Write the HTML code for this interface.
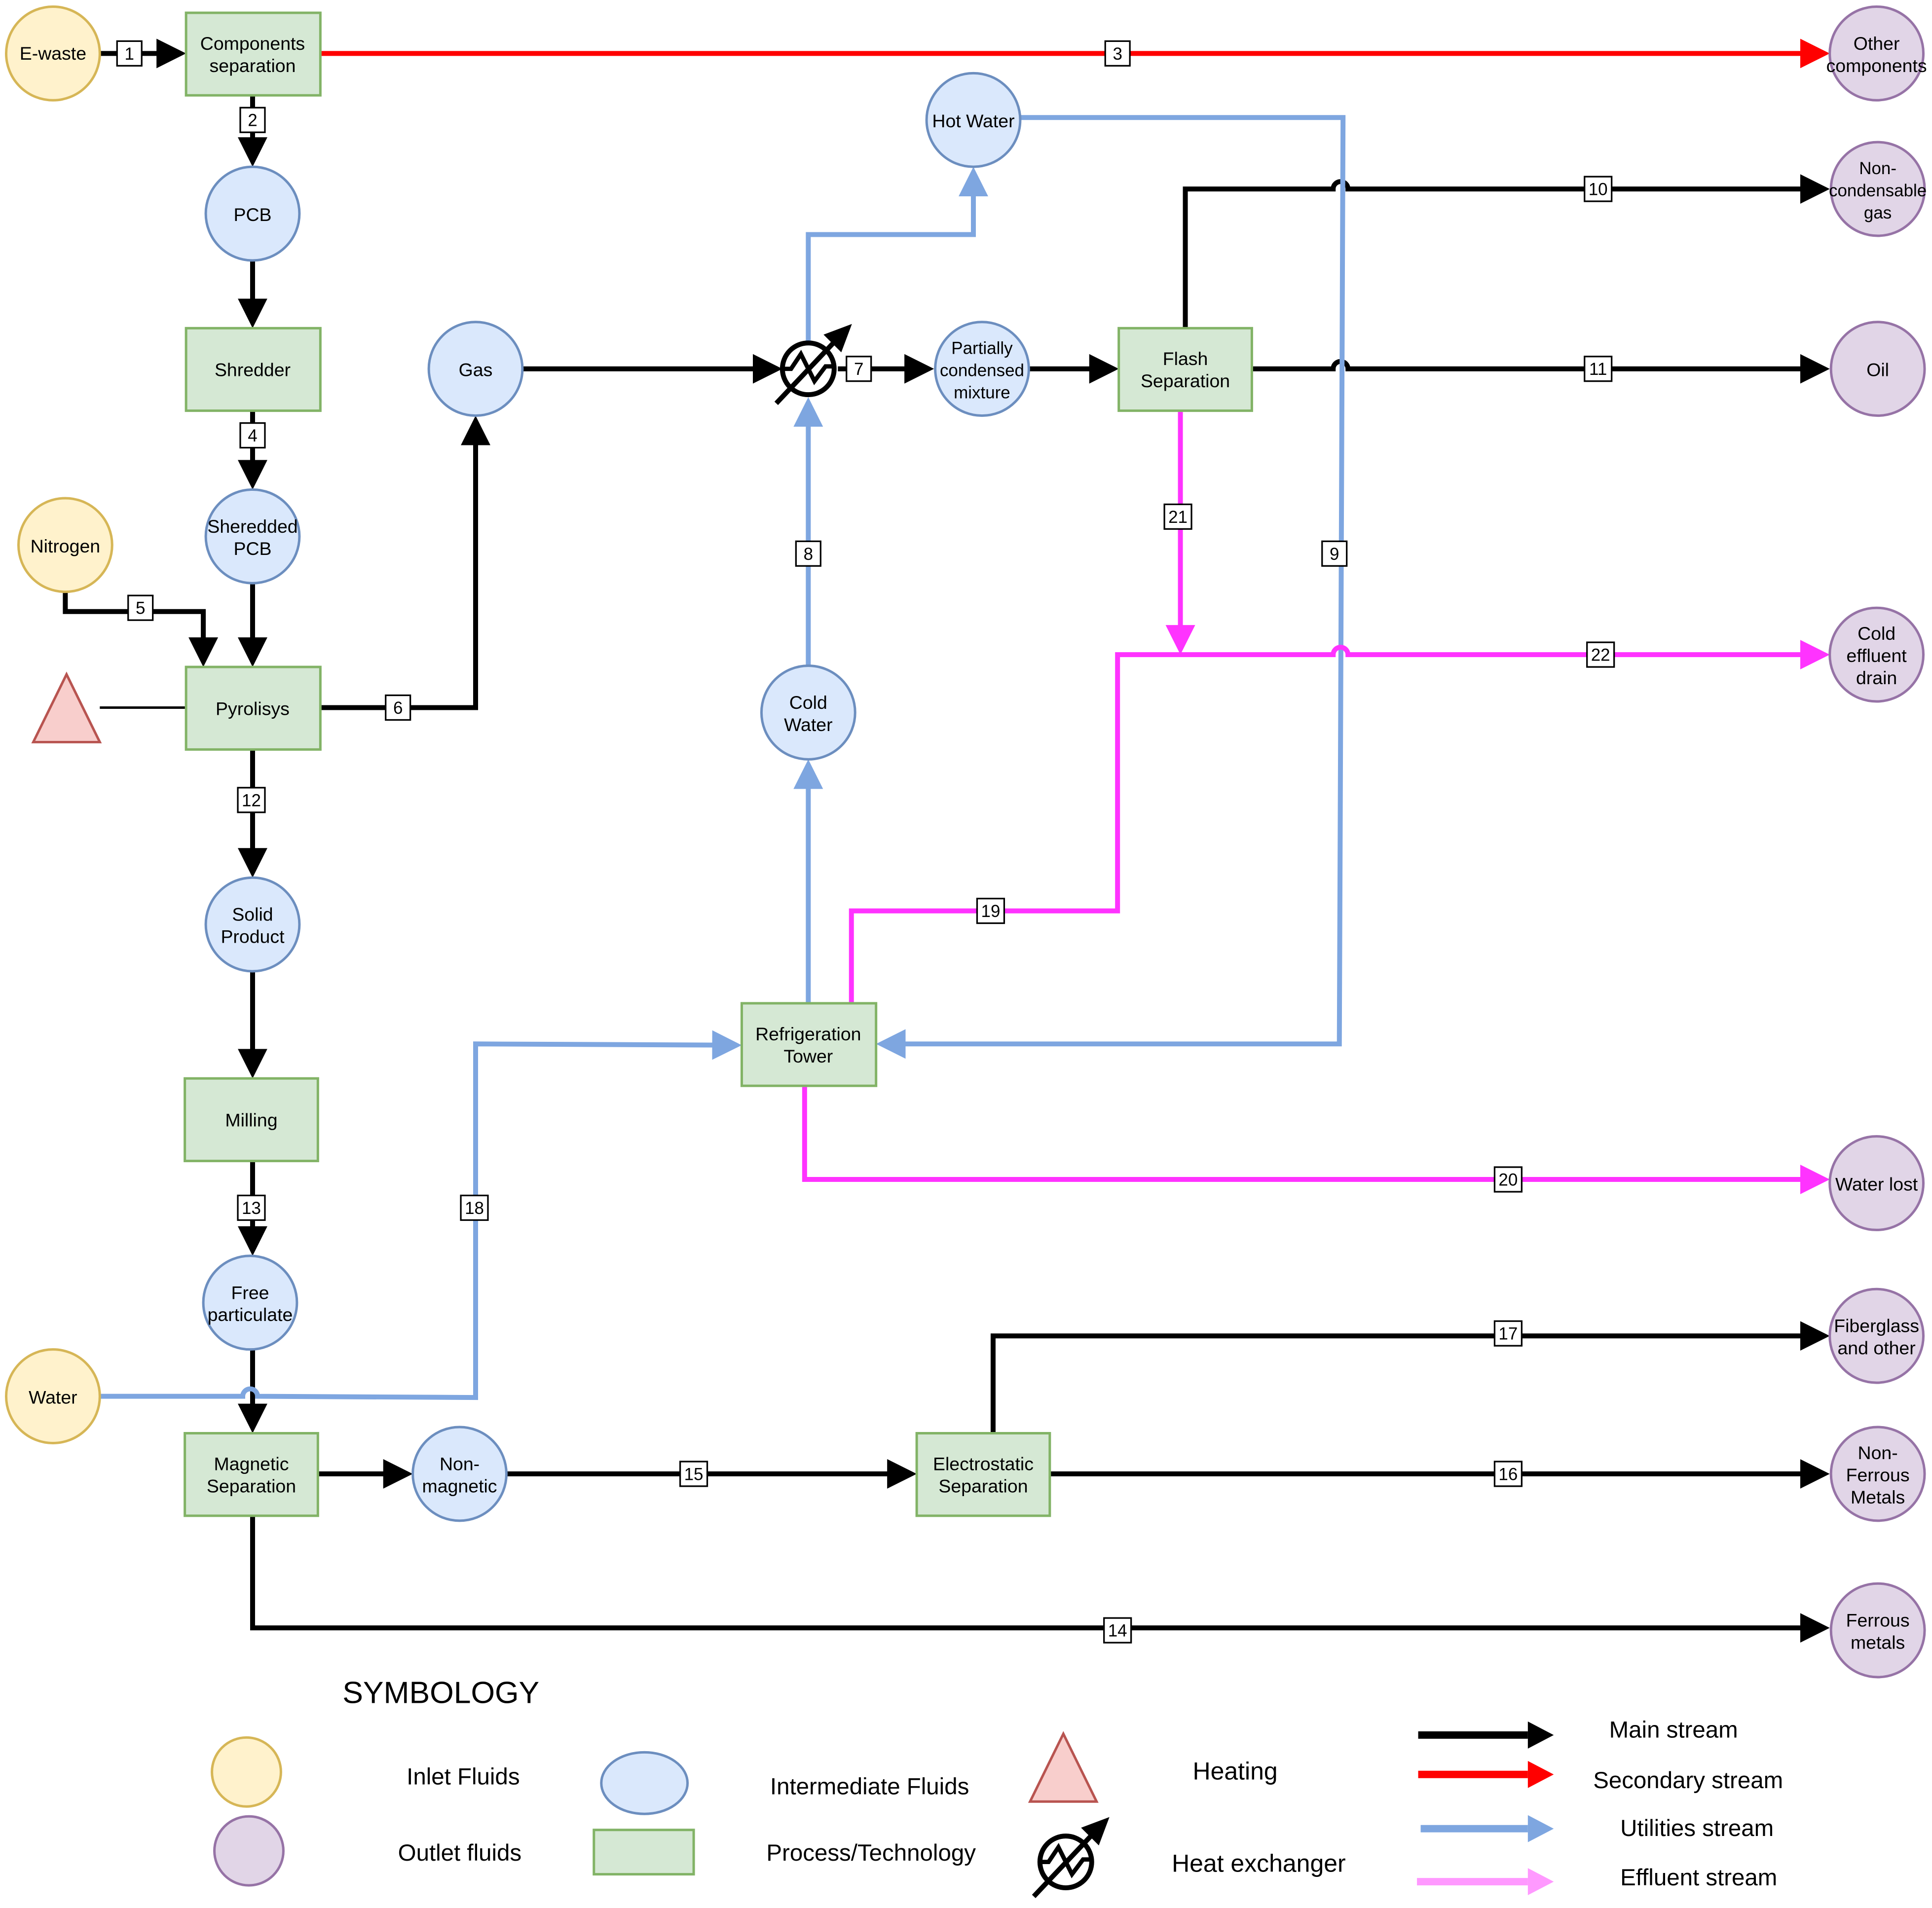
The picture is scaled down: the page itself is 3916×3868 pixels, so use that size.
<!DOCTYPE html>
<html><head><meta charset="utf-8"><style>
html,body{margin:0;padding:0;background:#fff;}
svg{display:block;}
text{font-family:"Liberation Sans",sans-serif;}
</style></head><body>
<svg width="3916" height="3868" viewBox="0 0 1568 1548" xmlns="http://www.w3.org/2000/svg">
<defs>
<marker id="ak" markerWidth="6" markerHeight="6" refX="5" refY="3" orient="auto" markerUnits="strokeWidth"><path d="M0,0 L6,3 L0,6 Z" fill="#000"/></marker>
<marker id="ar" markerWidth="6" markerHeight="6" refX="5" refY="3" orient="auto" markerUnits="strokeWidth"><path d="M0,0 L6,3 L0,6 Z" fill="#f00"/></marker>
<marker id="ab" markerWidth="6" markerHeight="6" refX="5" refY="3" orient="auto" markerUnits="strokeWidth"><path d="M0,0 L6,3 L0,6 Z" fill="#7ea6e0"/></marker>
<marker id="am" markerWidth="6" markerHeight="6" refX="5" refY="3" orient="auto" markerUnits="strokeWidth"><path d="M0,0 L6,3 L0,6 Z" fill="#ff33ff"/></marker>
</defs>
<rect width="1568" height="1548" fill="#fff"/>
<g fill="none" stroke-width="4">
<!-- black -->
<g stroke="#000" marker-end="url(#ak)">
<path d="M81,43 H147"/>
<path d="M205,77 V131"/>
<path d="M205,211 V262"/>
<path d="M205,333 V393"/>
<path d="M205,473 V537"/>
<path d="M53,480 V496 H165 V537"/>
<path d="M260,574 H386 V341"/>
<path d="M424,299 H631"/>
<path d="M680,299 H754"/>
<path d="M835,299 H904"/>
<path d="M962,266 V153 H1082 A6,6 0 0 1 1094,153 H1481"/>
<path d="M1016,299 H1082 A6,6 0 0 1 1094,299 H1481"/>
<path d="M205,608 V708"/>
<path d="M205,788 V871"/>
<path d="M205,942 V1015"/>
<path d="M205,1095 V1159"/>
<path d="M258,1196 H331"/>
<path d="M411,1196 H740"/>
<path d="M852,1196 H1481"/>
<path d="M806,1163 V1084 H1481"/>
<path d="M205,1230 V1321 H1481"/>
</g>
<path d="M81,574 H151" stroke="#000" stroke-width="2"/>
<path d="M260,43 H1481" stroke="#f00" marker-end="url(#ar)"/>
<g stroke="#7ea6e0" marker-end="url(#ab)">
<path d="M656,540 V326"/>
<path d="M656,280 V190 H790 V139"/>
<path d="M828,95 H1090 L1087,847 H715"/>
<path d="M656,814 V620"/>
<path d="M81,1133 H197 A6,6 0 0 1 209,1133 L386,1134 V847 L598,848"/>
</g>
<g stroke="#ff33ff" marker-end="url(#am)">
<path d="M958,333 V527"/>
<path d="M691,814 V739 H907 V531 H1082 A6,6 0 0 1 1094,531 H1481"/>
<path d="M653,881 V957 H1481"/>
</g>
</g>
<!-- nodes -->
<g stroke-width="2" font-size="15" text-anchor="middle">
<g fill="#fff2cc" stroke="#d6b656">
<circle cx="43" cy="43" r="38"/><circle cx="53" cy="442" r="38"/><circle cx="43" cy="1133" r="38"/>
<circle cx="200" cy="1438" r="28"/>
</g>
<g fill="#e1d5e7" stroke="#9673a6">
<circle cx="1523" cy="43" r="38"/><circle cx="1524" cy="153" r="38"/><circle cx="1524" cy="299" r="38"/><circle cx="1523" cy="531" r="38"/><circle cx="1523" cy="960" r="38"/><circle cx="1523" cy="1084" r="38"/><circle cx="1524" cy="1196" r="38"/><circle cx="1524" cy="1323" r="38"/>
<circle cx="202" cy="1502" r="28"/>
</g>
<g fill="#dae8fc" stroke="#6c8ebf">
<circle cx="205" cy="173" r="38"/><circle cx="205" cy="435" r="38"/><circle cx="386" cy="299" r="38"/><circle cx="790" cy="97" r="38"/><circle cx="797" cy="299" r="38"/><circle cx="656" cy="578" r="38"/><circle cx="205" cy="750" r="38"/><circle cx="203" cy="1057" r="38"/><circle cx="373" cy="1196" r="38"/>
<ellipse cx="523" cy="1447" rx="35" ry="25"/>
</g>
<g fill="#d5e8d4" stroke="#82b366">
<rect x="151" y="10" width="109" height="67"/><rect x="151" y="266" width="109" height="67"/><rect x="151" y="541" width="109" height="67"/><rect x="908" y="266" width="108" height="67"/><rect x="602" y="814" width="109" height="67"/><rect x="150" y="875" width="108" height="67"/><rect x="150" y="1163" width="108" height="67"/><rect x="744" y="1163" width="108" height="67"/>
<rect x="482" y="1485" width="81" height="36"/>
</g>
<g fill="#f8cecc" stroke="#b85450">
<path d="M27,602 L54,547 L81,602 Z"/><path d="M836,1462 L863,1407 L890,1462 Z"/>
</g>
<g stroke="none" fill="#000">
<text x="43" y="48">E-waste</text>
<text x="205" y="40">Components</text><text x="205" y="58">separation</text>
<text x="1523" y="40">Other</text><text x="1523" y="58">components</text>
<text x="205" y="179">PCB</text>
<text x="205" y="305">Shredder</text>
<text x="205" y="432">Sheredded</text><text x="205" y="450">PCB</text>
<text x="53" y="448">Nitrogen</text>
<text x="205" y="580">Pyrolisys</text>
<text x="386" y="305">Gas</text>
<text x="790" y="103">Hot Water</text>
<text x="797" y="287" font-size="14">Partially</text><text x="797" y="305" font-size="14">condensed</text><text x="797" y="323" font-size="14">mixture</text>
<text x="962" y="296">Flash</text><text x="962" y="314">Separation</text>
<text x="1524" y="141" font-size="14">Non-</text><text x="1524" y="159" font-size="14">condensable</text><text x="1524" y="177" font-size="14">gas</text>
<text x="1524" y="305">Oil</text>
<text x="1523" y="519">Cold</text><text x="1523" y="537">effluent</text><text x="1523" y="555">drain</text>
<text x="656" y="575">Cold</text><text x="656" y="593">Water</text>
<text x="205" y="747">Solid</text><text x="205" y="765">Product</text>
<text x="656" y="844">Refrigeration</text><text x="656" y="862">Tower</text>
<text x="204" y="914">Milling</text>
<text x="1523" y="966">Water lost</text>
<text x="203" y="1054">Free</text><text x="203" y="1072">particulate</text>
<text x="43" y="1139">Water</text>
<text x="1523" y="1081">Fiberglass</text><text x="1523" y="1099">and other</text>
<text x="204" y="1193">Magnetic</text><text x="204" y="1211">Separation</text>
<text x="373" y="1193">Non-</text><text x="373" y="1211">magnetic</text>
<text x="798" y="1193">Electrostatic</text><text x="798" y="1211">Separation</text>
<text x="1524" y="1184">Non-</text><text x="1524" y="1202">Ferrous</text><text x="1524" y="1220">Metals</text>
<text x="1524" y="1320">Ferrous</text><text x="1524" y="1338">metals</text>
</g>
</g>
<!-- heat exchangers -->
<g fill="none" stroke="#000" stroke-width="4">
<circle cx="656" cy="299" r="21"/>
<path d="M635,299 H642 L650,287 L661,309 L670,297 H677" stroke-width="3.5"/>
<path d="M630,327 L682,272"/>
<path d="M688,266 L672,272 L682,282 Z" fill="#000"/>
<g transform="translate(209,1212)">
<circle cx="656" cy="299" r="21"/>
<path d="M635,299 H642 L650,287 L661,309 L670,297 H677" stroke-width="3.5"/>
<path d="M630,327 L682,272"/>
<path d="M688,266 L672,272 L682,282 Z" fill="#000"/>
</g>
</g>
<!-- number labels -->
<g font-size="14" text-anchor="middle">
<g fill="#fff" stroke="#000" stroke-width="1.3">
<rect x="95" y="33" width="20" height="20"/><rect x="195" y="87" width="20" height="20"/><rect x="897" y="33" width="20" height="20"/>
<rect x="195" y="343" width="20" height="20"/><rect x="104" y="483" width="20" height="20"/><rect x="313" y="564" width="20" height="20"/>
<rect x="687" y="289" width="20" height="20"/><rect x="646" y="439" width="20" height="20"/><rect x="1073" y="439" width="20" height="20"/>
<rect x="1286" y="143" width="22" height="20"/><rect x="1286" y="289" width="22" height="20"/><rect x="193" y="639" width="22" height="20"/>
<rect x="945" y="409" width="22" height="20"/><rect x="1288" y="521" width="22" height="20"/><rect x="793" y="729" width="22" height="20"/>
<rect x="1213" y="947" width="22" height="20"/><rect x="193" y="970" width="22" height="20"/><rect x="374" y="970" width="22" height="20"/>
<rect x="1213" y="1072" width="22" height="20"/><rect x="552" y="1186" width="22" height="20"/><rect x="1213" y="1186" width="22" height="20"/>
<rect x="896" y="1313" width="22" height="20"/>
</g>
<text x="105" y="48">1</text><text x="205" y="102">2</text><text x="907" y="48">3</text>
<text x="205" y="358">4</text><text x="114" y="498">5</text><text x="323" y="579">6</text>
<text x="697" y="304">7</text><text x="656" y="454">8</text><text x="1083" y="454">9</text>
<text x="1297" y="158">10</text><text x="1297" y="304">11</text><text x="204" y="654">12</text>
<text x="956" y="424">21</text><text x="1299" y="536">22</text><text x="804" y="744">19</text>
<text x="1224" y="962">20</text><text x="204" y="985">13</text><text x="385" y="985">18</text>
<text x="1224" y="1087">17</text><text x="563" y="1201">15</text><text x="1224" y="1201">16</text>
<text x="907" y="1328">14</text>
</g>
<!-- legend -->
<g font-size="19" fill="#000">
<text x="278" y="1382" font-size="25">SYMBOLOGY</text>
<text x="330" y="1448">Inlet Fluids</text>
<text x="323" y="1510">Outlet fluids</text>
<text x="625" y="1456">Intermediate Fluids</text>
<text x="622" y="1510">Process/Technology</text>
<text x="968" y="1444" font-size="20">Heating</text>
<text x="951" y="1519" font-size="20">Heat exchanger</text>
<text x="1306" y="1410">Main stream</text>
<text x="1293" y="1451">Secondary stream</text>
<text x="1315" y="1490">Utilities stream</text>
<text x="1315" y="1530">Effluent stream</text>
</g>
<g>
<path d="M1151,1408 H1240" stroke="#000" stroke-width="6"/><path d="M1240,1397 L1261,1408 L1240,1419 Z" fill="#000"/>
<path d="M1151,1440 H1240" stroke="#f00" stroke-width="6"/><path d="M1240,1429 L1261,1440 L1240,1451 Z" fill="#f00"/>
<path d="M1153,1484 H1240" stroke="#7ea6e0" stroke-width="6"/><path d="M1240,1473 L1261,1484 L1240,1495 Z" fill="#7ea6e0"/>
<path d="M1150,1527 H1240" stroke="#ff99ff" stroke-width="6"/><path d="M1240,1516 L1261,1527 L1240,1538 Z" fill="#ff99ff"/>
</g>
</svg>
</body></html>
